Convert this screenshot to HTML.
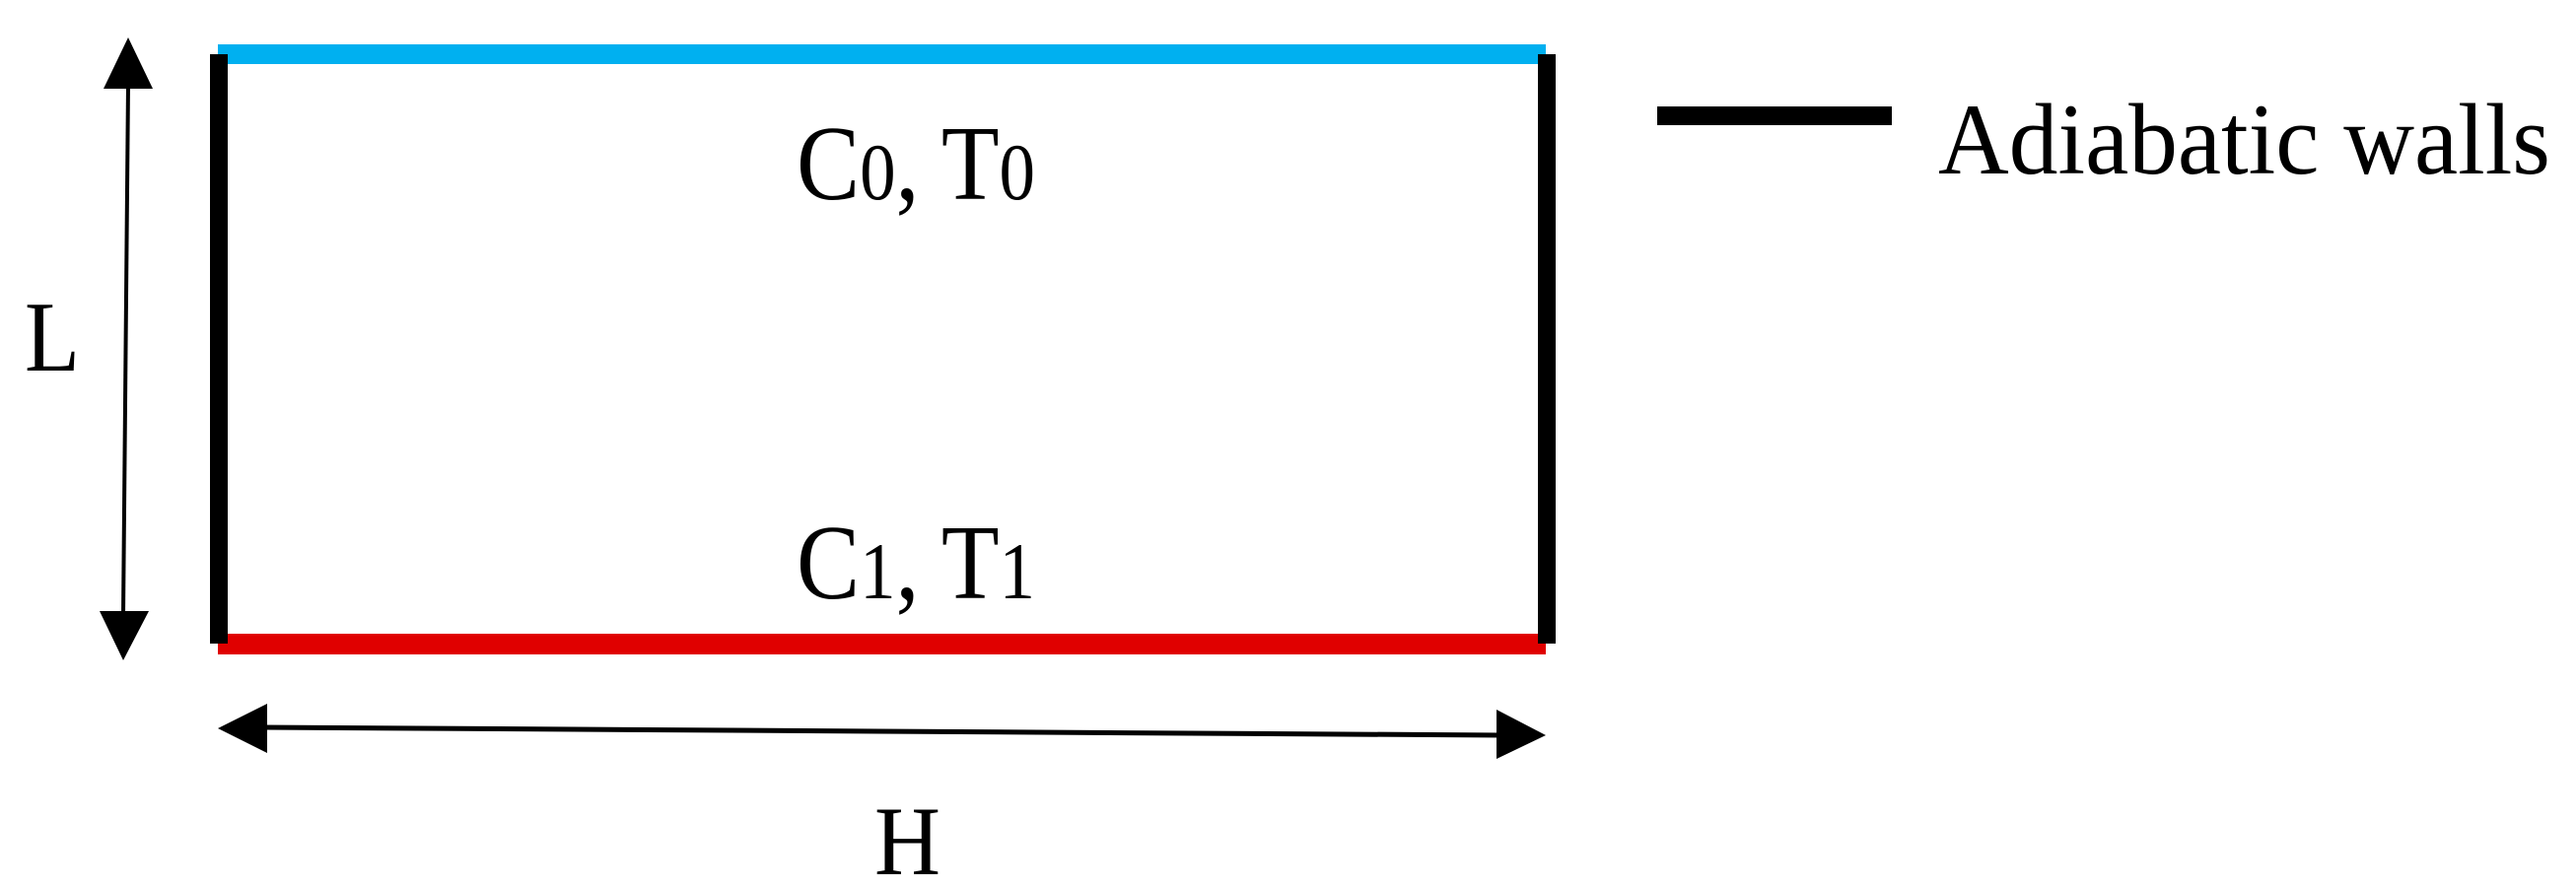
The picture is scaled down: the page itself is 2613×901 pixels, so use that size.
<!DOCTYPE html>
<html><head><meta charset="utf-8"><style>
html,body{margin:0;padding:0;background:#fff;}
svg{display:block;}
text{font-family:"Liberation Serif",serif;fill:#000;}
</style></head><body>
<svg width="2613" height="901" viewBox="0 0 2613 901" xmlns="http://www.w3.org/2000/svg">
<rect x="221" y="45" width="1347" height="20" fill="#00b0f0"/>
<rect x="221" y="643" width="1347" height="21" fill="#e00000"/>
<rect x="213" y="55" width="18" height="598" fill="#000"/>
<rect x="1560" y="55" width="18" height="598" fill="#000"/>
<line x1="130" y1="85" x2="125" y2="625" stroke="#000" stroke-width="4"/>
<polygon points="130,38 105,90 155,90" fill="#000"/>
<polygon points="125,670 101,620 151,620" fill="#000"/>
<line x1="265" y1="738" x2="1525" y2="746" stroke="#000" stroke-width="5"/>
<polygon points="221,739 271,714 271,764" fill="#000"/>
<polygon points="1568,746 1518,720 1518,770" fill="#000"/>
<text x="808" y="202" font-size="108" textLength="242" lengthAdjust="spacingAndGlyphs">C<tspan font-size="82">0</tspan>, T<tspan font-size="82">0</tspan></text>
<text x="808" y="607" font-size="108" textLength="242" lengthAdjust="spacingAndGlyphs">C<tspan font-size="82">1</tspan>, T<tspan font-size="82">1</tspan></text>
<text x="25" y="376" font-size="102" textLength="56" lengthAdjust="spacingAndGlyphs">L</text>
<text x="887" y="887" font-size="100" textLength="67" lengthAdjust="spacingAndGlyphs">H</text>
<rect x="1681" y="108" width="238" height="19" fill="#000"/>
<text x="1966" y="176" font-size="103" textLength="621" lengthAdjust="spacingAndGlyphs">Adiabatic walls</text>
</svg>
</body></html>
